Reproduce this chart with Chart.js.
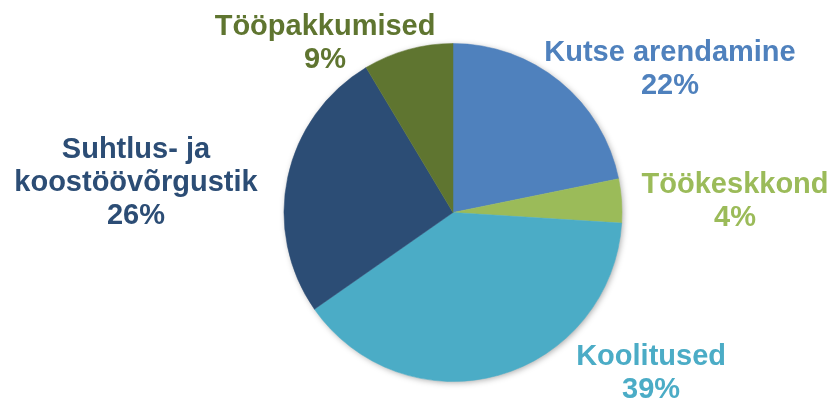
<!DOCTYPE html>
<html>
<head>
<meta charset="utf-8">
<script src="https://cdn.jsdelivr.net/npm/chart.js@4/dist/chart.umd.min.js"></script>
<style>
  html, body { margin: 0; padding: 0; background: #ffffff; }
  #wrap { width: 832px; height: 403px; position: relative; }
</style>
</head>
<body>
<div id="wrap"><canvas id="c" width="832" height="403"></canvas></div>
<script>
// ---- data ----
const categories = [
  ["Kutse arendamine"],
  ["Töökeskkond"],
  ["Koolitused"],
  ["Suhtlus- ja", "koostöövõrgustik"],
  ["Tööpakkumised"]
];
// shares (labels show them rounded)
const shares = [21.8, 4.2, 39.3, 26.1, 8.6];
const sliceColors = ["#4F81BD", "#9BBB59", "#4BACC6", "#2C4D75", "#5F7530"];

// label anchors (centre x, first baseline) relative to pie centre, in units of radius
const labelAnchors = [
  [1.284, -0.896],
  [1.669, -0.115],
  [1.172, 0.902],
  [-1.876, -0.322],
  [-0.757, -1.050]
];

const shadowPlugin = {
  id: 'pieShadow',
  beforeDatasetsDraw(chart) {
    const arc = chart.getDatasetMeta(0).data[0];
    if (!arc) return;
    const ctx = chart.ctx;
    ctx.save();
    ctx.shadowColor = 'rgba(0,0,0,0.35)';
    ctx.shadowBlur = 6;
    ctx.shadowOffsetX = 1.5;
    ctx.shadowOffsetY = 1.5;
    ctx.beginPath();
    ctx.arc(arc.x, arc.y, arc.outerRadius - 0.5, 0, Math.PI * 2);
    ctx.fillStyle = '#ffffff';
    ctx.fill();
    ctx.restore();
  }
};

const labelPlugin = {
  id: 'outsideLabels',
  afterDatasetsDraw(chart) {
    const meta = chart.getDatasetMeta(0);
    const ctx = chart.ctx;
    const data = chart.data.datasets[0].data;
    const total = data.reduce((a, b) => a + b, 0);
    ctx.save();
    ctx.font = 'bold 29px "Liberation Sans", Arial, sans-serif';
    ctx.textAlign = 'center';
    ctx.textBaseline = 'alphabetic';
    const lh = 33;
    meta.data.forEach((arc, i) => {
      const r = arc.outerRadius;
      const cx = arc.x + labelAnchors[i][0] * r;
      const cy = arc.y + labelAnchors[i][1] * r;
      const lines = chart.data.labels[i].concat([Math.round(data[i] / total * 100) + '%']);
      ctx.fillStyle = sliceColors[i];
      lines.forEach((t, k) => ctx.fillText(t, cx, cy + k * lh));
    });
    ctx.restore();
  }
};

new Chart(document.getElementById('c'), {
  type: 'pie',
  data: {
    labels: categories,
    datasets: [{
      data: shares,
      backgroundColor: sliceColors,
      borderColor: sliceColors,
      borderWidth: 0.5,
      radius: 169
    }]
  },
  options: {
    responsive: false,
    animation: false,
    layout: { padding: { top: 43.5, bottom: 21.5, left: 200, right: 126 } },
    plugins: {
      legend: { display: false },
      tooltip: { enabled: false }
    }
  },
  plugins: [shadowPlugin, labelPlugin]
});
</script>
</body>
</html>
